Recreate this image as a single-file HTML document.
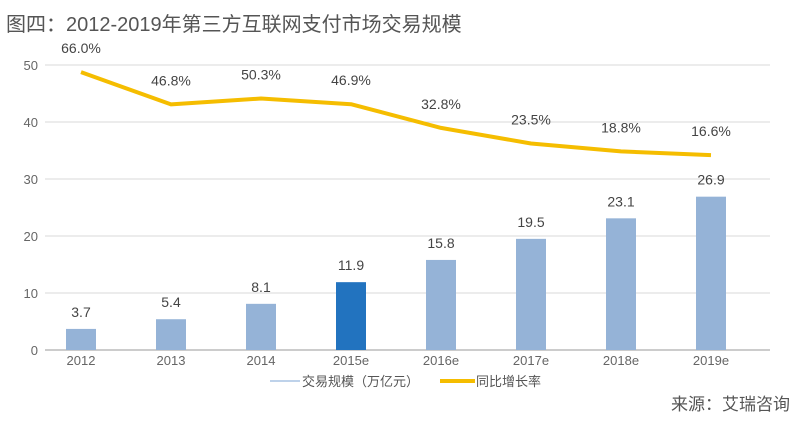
<!DOCTYPE html>
<html><head><meta charset="utf-8"><style>
body{margin:0;background:#fff;}
svg{display:block;font-family:"Liberation Sans","Noto Sans CJK SC",sans-serif;}
</style></head><body>
<svg id="chart" width="800" height="422">
<text x="6" y="31" font-size="20" fill="#555">图四：2012-2019年第三方互联网支付市场交易规模</text>
<g id="grid"></g><g id="bars"></g><g id="line"></g><g id="labels"></g>
<g>
<line x1="270" y1="381" x2="300" y2="381" stroke="#a9c4e3" stroke-width="1.5"/>
<text x="302" y="386" font-size="13" fill="#555">交易规模（万亿元）</text>
<line x1="440" y1="381" x2="475" y2="381" stroke="#f5bd00" stroke-width="4"/>
<text x="476" y="386" font-size="13" fill="#555">同比增长率</text>
</g>
<text x="790" y="410" font-size="17" fill="#555" text-anchor="end">来源：艾瑞咨询</text>
</svg>
<script>
const categories=["2012","2013","2014","2015e","2016e","2017e","2018e","2019e"];
const volumes=[3.7,5.4,8.1,11.9,15.8,19.5,23.1,26.9];
const growth=[66.0,46.8,50.3,46.9,32.8,23.5,18.8,16.6];
const yTicks=[0,10,20,30,40,50];
const highlightIndex=3;
const NS="http://www.w3.org/2000/svg";
const x0=36,step=90,base=350,unit=5.7;
const xc=i=>x0+step*(i+0.5);
const yL=v=>base-v*unit;
const yR=v=>183-v*1.68;
function mk(t,a,p){const e=document.createElementNS(NS,t);for(const k in a)e.setAttribute(k,a[k]);p.appendChild(e);return e;}
const grid=document.getElementById('grid'),bars=document.getElementById('bars'),line=document.getElementById('line'),labels=document.getElementById('labels');
yTicks.forEach(t=>{
 const l=mk('line',{x1:45,x2:770,y1:yL(t),y2:yL(t),stroke:t===0?'#bbb':'#d9d9d9','stroke-width':t===0?1.5:1},grid);
 
 
 const tx=mk('text',{x:38,y:yL(t)+5,'font-size':13,fill:'#666','text-anchor':'end'},grid);
 tx.textContent=t;
 
 
});
categories.forEach((c,i)=>{
 const r=mk('rect',{x:xc(i)-15,y:yL(volumes[i]),width:30,height:volumes[i]*unit,fill:i===highlightIndex?'#2273bf':'#95b3d7'},bars);
 
 
 const v=mk('text',{x:xc(i),y:yL(volumes[i])-12,'font-size':14,fill:'#444','text-anchor':'middle'},labels);
 v.textContent=volumes[i].toFixed(1);
 
 
 const xl=mk('text',{x:xc(i),y:365,'font-size':13,fill:'#666','text-anchor':'middle'},labels);
 xl.textContent=c;
 
 
 const g=mk('text',{x:xc(i),y:yR(growth[i])-19,'font-size':14,fill:'#444','text-anchor':'middle'},labels);
 g.textContent=growth[i].toFixed(1)+'%';
 
 
});
const pl=mk('polyline',{points:growth.map((g,i)=>xc(i)+','+yR(g)).join(' '),fill:'none',stroke:'#f5bd00','stroke-width':4,'stroke-linejoin':'round'},line);


</script>
</body></html>
